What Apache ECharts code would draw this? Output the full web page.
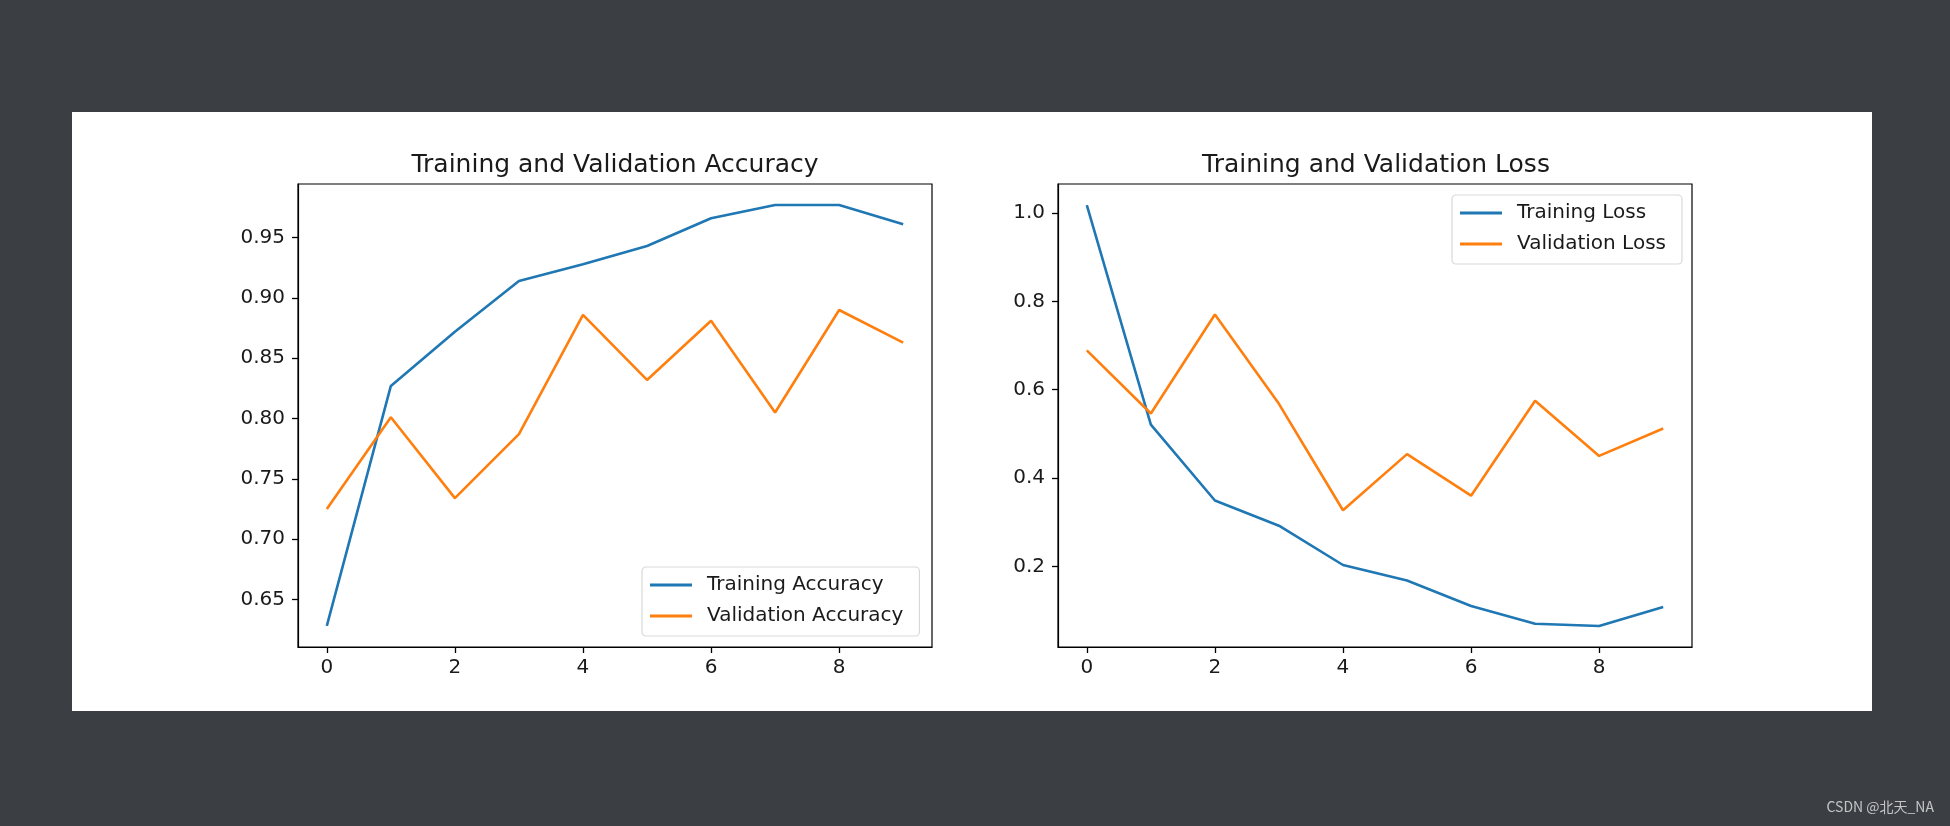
<!DOCTYPE html>
<html>
<head>
<meta charset="utf-8">
<script src="https://cdn.jsdelivr.net/npm/echarts@6/dist/echarts.min.js"></script>
<style>
html,body{margin:0;padding:0;background:#3b3f44;}
#c{width:1950px;height:826px;}
</style>
</head>
<body>
<div id="c"></div>
<script>
const epochs = [0,1,2,3,4,5,6,7,8,9];
const trainAcc = [0.628,0.827,0.872,0.914,0.928,0.943,0.966,0.977,0.977,0.961];
const valAcc   = [0.725,0.801,0.734,0.787,0.886,0.832,0.881,0.805,0.890,0.863];
const trainLoss = [1.018,0.521,0.349,0.292,0.203,0.168,0.110,0.070,0.065,0.108];
const valLoss   = [0.689,0.546,0.770,0.568,0.327,0.454,0.360,0.575,0.450,0.512];
const xTicks = [0,2,4,6,8];
const accTicks = [0.65,0.70,0.75,0.80,0.85,0.90,0.95];
const lossTicks = [0.2,0.4,0.6,0.8,1.0];
const titles = ['Training and Validation Accuracy','Training and Validation Loss'];
const names = ['Training Accuracy','Validation Accuracy','Training Loss','Validation Loss'];

const BLUE = '#1f77b4', ORANGE = '#ff7f0e', TXT = '#1a1a1a';
const FONT = 'DejaVu Sans';

function pairs(ys){ return epochs.map((x,i)=>[x, ys[i]]); }
function pad(arr){ const mn=Math.min(...arr), mx=Math.max(...arr), d=(mx-mn)*0.05; return [mn-d, mx+d]; }
const accR = pad(trainAcc.concat(valAcc));
const lossR = pad(trainLoss.concat(valLoss));

function xAxis(gi){
  return {
    type:'value', gridIndex:gi, min:-0.45, max:9.45,
    axisLine:{show:true, onZero:false, lineStyle:{color:'#000', width:1.2}},
    splitLine:{show:false},
    axisTick:{show:true, inside:false, length:6, customValues:xTicks, lineStyle:{color:'#000', width:1.3}},
    axisLabel:{customValues:xTicks, margin:11, color:TXT, fontSize:20, fontFamily:FONT}
  };
}
function yAxis(gi, r, ticks, dec){
  return {
    type:'value', gridIndex:gi, min:r[0], max:r[1],
    axisLine:{show:true, onZero:false, lineStyle:{color:'#000', width:1.2}},
    splitLine:{show:false},
    axisTick:{show:true, inside:false, length:6, customValues:ticks, lineStyle:{color:'#000', width:1.3}},
    axisLabel:{customValues:ticks, margin:13, color:TXT, fontSize:20, fontFamily:FONT,
      formatter:v=>Number(v).toFixed(dec)}
  };
}
function line(name, data, color, gi){
  return {type:'line', name, data:pairs(data), xAxisIndex:gi, yAxisIndex:gi,
    symbol:'none', lineStyle:{color, width:2.6}, itemStyle:{color}, animation:false};
}
const legendCommon = {
  orient:'vertical', icon:'rect', itemWidth:42, itemHeight:3, itemGap:11,
  padding:[8,16,10,8], backgroundColor:'#fff', borderColor:'#d9d9d9', borderWidth:1.2, borderRadius:4,
  textStyle:{color:TXT, fontSize:20, fontFamily:FONT, lineHeight:20, padding:[0,0,0,10]}
};

const chart = echarts.init(document.getElementById('c'), null, {renderer:'canvas'});
chart.setOption({
  backgroundColor:'#3b3f44',
  animation:false,
  graphic:[
    {type:'rect', z:-10, shape:{x:72, y:112, width:1800, height:599}, style:{fill:'#ffffff'}},
    {type:'text', right:16, top:800, style:{text:'CSDN @北天_NA', fill:'#c4c4c4', fontSize:14, fontFamily:'Noto Sans CJK SC'}}
  ],
  title:[
    {text:titles[0], left:610, top:148, textAlign:'center', textStyle:{color:TXT, fontSize:25, fontWeight:'normal', fontFamily:FONT}},
    {text:titles[1], left:1371, top:148, textAlign:'center', textStyle:{color:TXT, fontSize:25, fontWeight:'normal', fontFamily:FONT}}
  ],
  grid:[
    {left:298, top:184, width:634, height:463, show:true, borderColor:'#000', borderWidth:1.2},
    {left:1058, top:184, width:634, height:463, show:true, borderColor:'#000', borderWidth:1.2}
  ],
  xAxis:[xAxis(0), xAxis(1)],
  yAxis:[yAxis(0, accR, accTicks, 2), yAxis(1, lossR, lossTicks, 1)],
  legend:[
    Object.assign({left:642, top:567, data:[names[0], names[1]]}, legendCommon),
    Object.assign({left:1452, top:195, data:[names[2], names[3]]}, legendCommon)
  ],
  series:[
    line(names[0], trainAcc, BLUE, 0),
    line(names[1], valAcc, ORANGE, 0),
    line(names[2], trainLoss, BLUE, 1),
    line(names[3], valLoss, ORANGE, 1)
  ]
});
</script>
</body>
</html>
